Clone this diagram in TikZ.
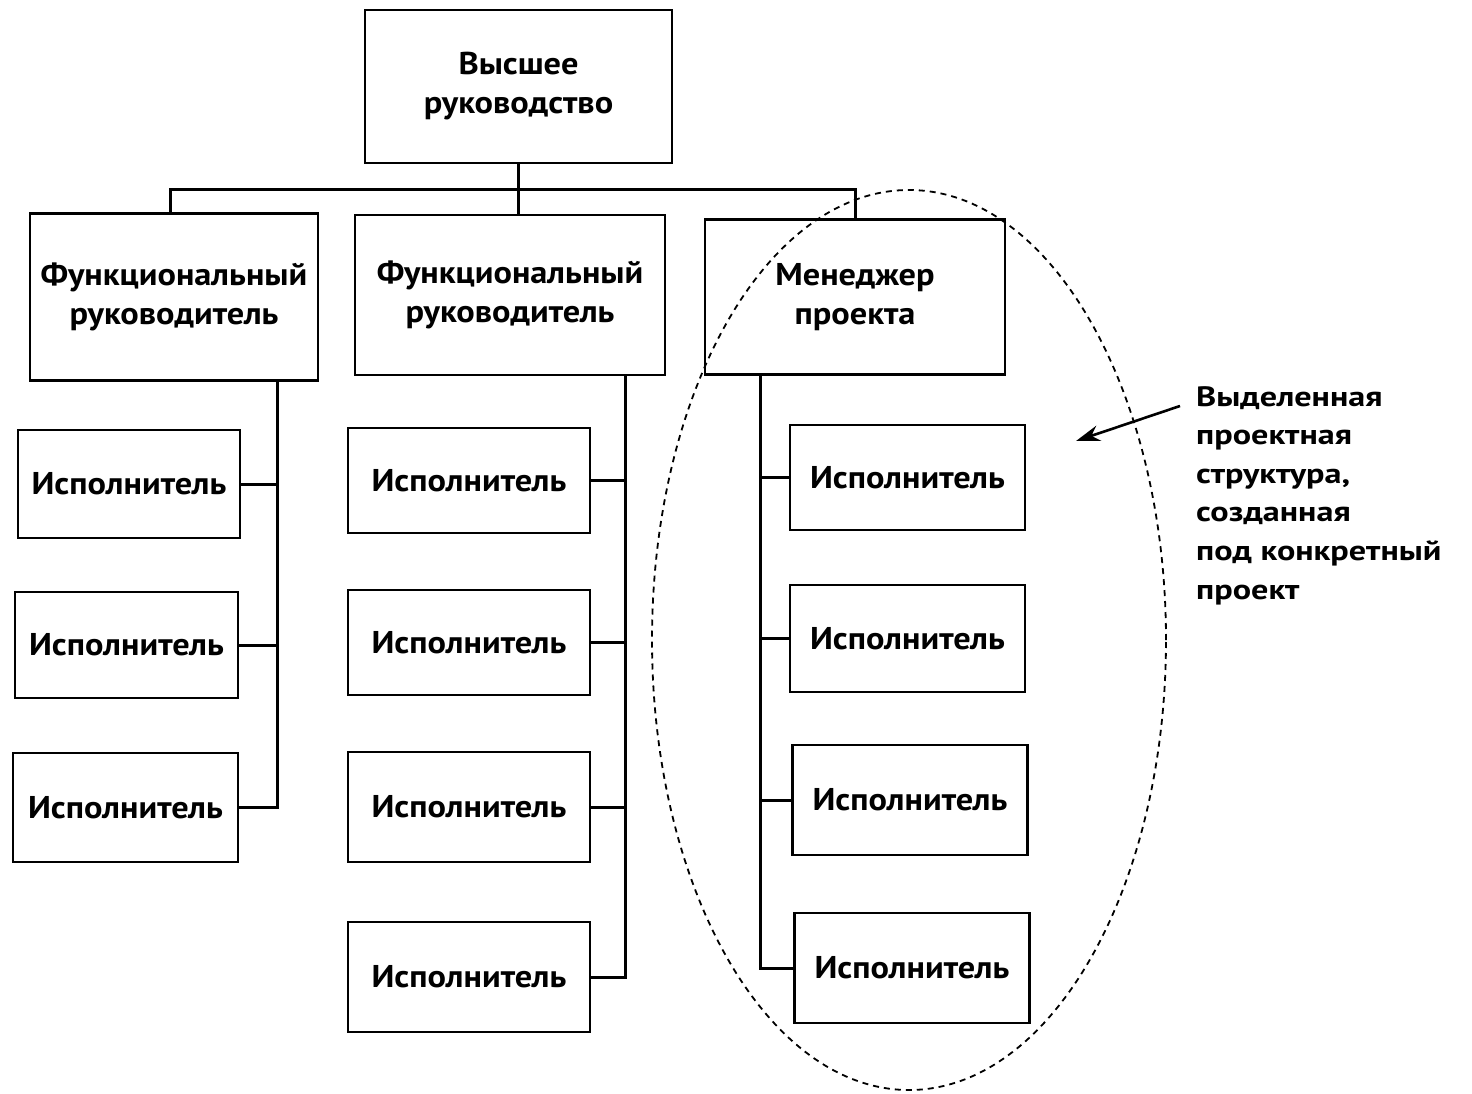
\documentclass[tikz,border=0pt]{standalone}
\usepackage{fontspec}
\setmainfont{PT Sans}
\newfontfamily\boxfont{PT Sans}[FakeStretch=1.09]
\newfontfamily\notefont{PT Sans}[FakeStretch=1.22]
\usetikzlibrary{arrows.meta,shapes.geometric}
\begin{document}
\begin{tikzpicture}[x=1pt,y=-1pt,
  box/.style={draw,line width=2.4pt,inner sep=0pt,align=center,font=\boxfont\fontsize{31.5}{39}\selectfont\bfseries},
  wire/.style={line width=3pt},
  note/.style={align=left,inner sep=0pt,anchor=north west,font=\notefont\fontsize{28}{38.6}\selectfont\bfseries}]
\useasboundingbox (0,0) rectangle (1472,1094);
% top
\node[box,minimum width=307pt,minimum height=153pt] (top) at (518.5,86.5) {Высшее\\руководство};
% second level
\node[box,minimum width=288pt,minimum height=167pt] (fr1) at (174,297) {Функциональный\\руководитель};
\node[box,minimum width=310pt,minimum height=160pt] (fr2) at (510,295) {Функциональный\\руководитель};
\node[box,minimum width=300pt,minimum height=155pt] (pm) at (855,297) {Менеджер\\проекта};
% executors col 1
\node[box,minimum width=222pt,minimum height=108pt] (e11) at (129,484) {Исполнитель};
\node[box,minimum width=223pt,minimum height=106pt] (e12) at (126.5,645) {Исполнитель};
\node[box,minimum width=225pt,minimum height=109pt] (e13) at (125.5,807.5) {Исполнитель};
% col 2
\node[box,minimum width=242pt,minimum height=105pt] (e21) at (469,480.5) {Исполнитель};
\node[box,minimum width=242pt,minimum height=105pt] (e22) at (469,642.5) {Исполнитель};
\node[box,minimum width=242pt,minimum height=110pt] (e23) at (469,807) {Исполнитель};
\node[box,minimum width=242pt,minimum height=110pt] (e24) at (469,977) {Исполнитель};
% col 3
\node[box,minimum width=235pt,minimum height=105pt] (e31) at (907.5,477.5) {Исполнитель};
\node[box,minimum width=235pt,minimum height=107pt] (e32) at (907.5,638.5) {Исполнитель};
\node[box,minimum width=235pt,minimum height=110pt] (e33) at (910,800) {Исполнитель};
\node[box,minimum width=235pt,minimum height=110pt] (e34) at (912,968) {Исполнитель};
% bus
\coordinate (busL) at (170,190);
\coordinate (busR) at (855,190);
\draw[wire] (top.south) -- (top.south |- busL);
\draw[wire] (fr1.north -| busL) -- (busL) -- (busR) -- (busR |- pm.north);
\draw[wire] (top.south |- busL) -- (top.south |- fr2.north);
% column 1 spine
\coordinate (v1) at (277,380);
\draw[wire] (v1) -- (v1 |- e13.east) -- (e13.east);
\draw[wire] (e11.east) -- (e11.east -| v1);
\draw[wire] (e12.east) -- (e12.east -| v1);
% column 2 spine
\coordinate (v2) at (625,375);
\draw[wire] (v2) -- (v2 |- e24.east) -- (e24.east);
\draw[wire] (e21.east) -- (e21.east -| v2);
\draw[wire] (e22.east) -- (e22.east -| v2);
\draw[wire] (e23.east) -- (e23.east -| v2);
% column 3 spine
\coordinate (v3) at (760,375);
\draw[wire] (v3) -- (v3 |- e34.west) -- (e34.west);
\draw[wire] (e31.west) -- (e31.west -| v3);
\draw[wire] (e32.west) -- (e32.west -| v3);
\draw[wire] (e33.west) -- (e33.west -| v3);
% dashed ellipse
\node[draw,ellipse,dash pattern=on 6pt off 5pt,line width=1.8pt,minimum width=514pt,minimum height=900pt,inner sep=0pt] (proj) at (909,640) {};
% note
\node[note] (lbl) at (1196,386) {Выделенная\\проектная\\структура,\\созданная\\под конкретный\\проект};
\coordinate (arrS) at (1180,406);
\coordinate (arrE) at (1076,441);
\draw[line width=2.6pt,-{Stealth[length=24pt,width=16pt]}] (arrS) -- (arrE);
\end{tikzpicture}
\end{document}
